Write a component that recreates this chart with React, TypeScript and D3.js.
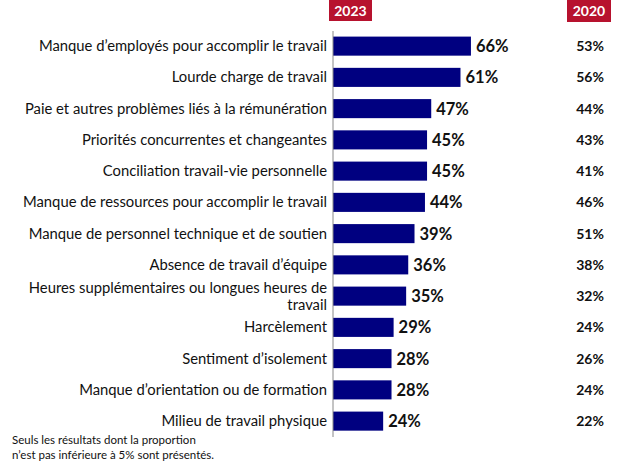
import React from "react";
import * as d3 from "d3";

const categories: string[][] = [
  ["Manque d’employés pour accomplir le travail"],
  ["Lourde charge de travail"],
  ["Paie et autres problèmes liés à la rémunération"],
  ["Priorités concurrentes et changeantes"],
  ["Conciliation travail-vie personnelle"],
  ["Manque de ressources pour accomplir le travail"],
  ["Manque de personnel technique et de soutien"],
  ["Absence de travail d’équipe"],
  ["Heures supplémentaires ou longues heures de", "travail"],
  ["Harcèlement"],
  ["Sentiment d’isolement"],
  ["Manque d’orientation ou de formation"],
  ["Milieu de travail physique"],
];
const values2023: number[] = [66, 61, 47, 45, 45, 44, 39, 36, 35, 29, 28, 28, 24];
const values2020: number[] = [53, 56, 44, 43, 41, 46, 51, 38, 32, 24, 26, 24, 22];
const yearLabels: string[] = ["2023", "2020"];
const footnote: string[] = [
  "Seuls les résultats dont la proportion",
  "n’est pas inférieure à 5% sont présentés.",
];

const W = 624;
const H = 468;
const FONT = "Lato, 'Open Sans', sans-serif";

export default function App() {
  const ids = categories.map((_, i) => String(i));
  const y = d3.scaleBand<string>().domain(ids).range([30.5, 436.75]).paddingInner(0.39).paddingOuter(0.195);
  const x = d3.scaleLinear().domain([0, 100]).range([333, 542]);
  const bw = y.bandwidth();
  return (
    <svg width={W} height={H} style={{ position: "absolute", left: 0, top: 0 }} fontFamily={FONT}>
      <rect x={0} y={0} width={W} height={H} fill="#fff" />
      <rect x={329} y={0} width={43} height={21} fill="#B7122E" />
      <text x={350.5} y={15.5} textAnchor="middle" fill="#fff" fontWeight="bold" fontSize={14}>
        {yearLabels[0]}
      </text>
      <rect x={567} y={0} width={44} height={22} fill="#B7122E" />
      <text x={589} y={16} textAnchor="middle" fill="#fff" fontWeight="bold" fontSize={14}>
        {yearLabels[1]}
      </text>
      {categories.map((lines, i) => {
        const yy = y(ids[i])!;
        const cy = yy + bw / 2;
        return (
          <g key={i}>
            <rect x={x(0)} y={yy} width={x(values2023[i]) - x(0)} height={bw} fill="#000080" />
            <text x={x(values2023[i]) + 5} y={cy + 6} fontWeight="bold" fontSize={16.5} fill="#111">
              {values2023[i]}%
            </text>
            <text x={590} y={cy + 5} textAnchor="middle" fontWeight="bold" fontSize={14} fill="#111">
              {values2020[i]}%
            </text>
            {lines.length === 1 ? (
              <text x={327} y={cy + 5} textAnchor="end" fontSize={14.8} fill="#111">
                {lines[0]}
              </text>
            ) : (
              lines.map((l, j) => (
                <text key={j} x={327} y={cy - 3.5 + j * 17} textAnchor="end" fontSize={14.8} fill="#111">
                  {l}
                </text>
              ))
            )}
          </g>
        );
      })}
      <line x1={333} x2={333} y1={31} y2={437} stroke="#888" strokeWidth={1} />
      {footnote.map((l, i) => (
        <text key={i} x={12} y={444 + i * 14.5} fontSize={11.5} fill="#111">
          {l}
        </text>
      ))}
    </svg>
  );
}
